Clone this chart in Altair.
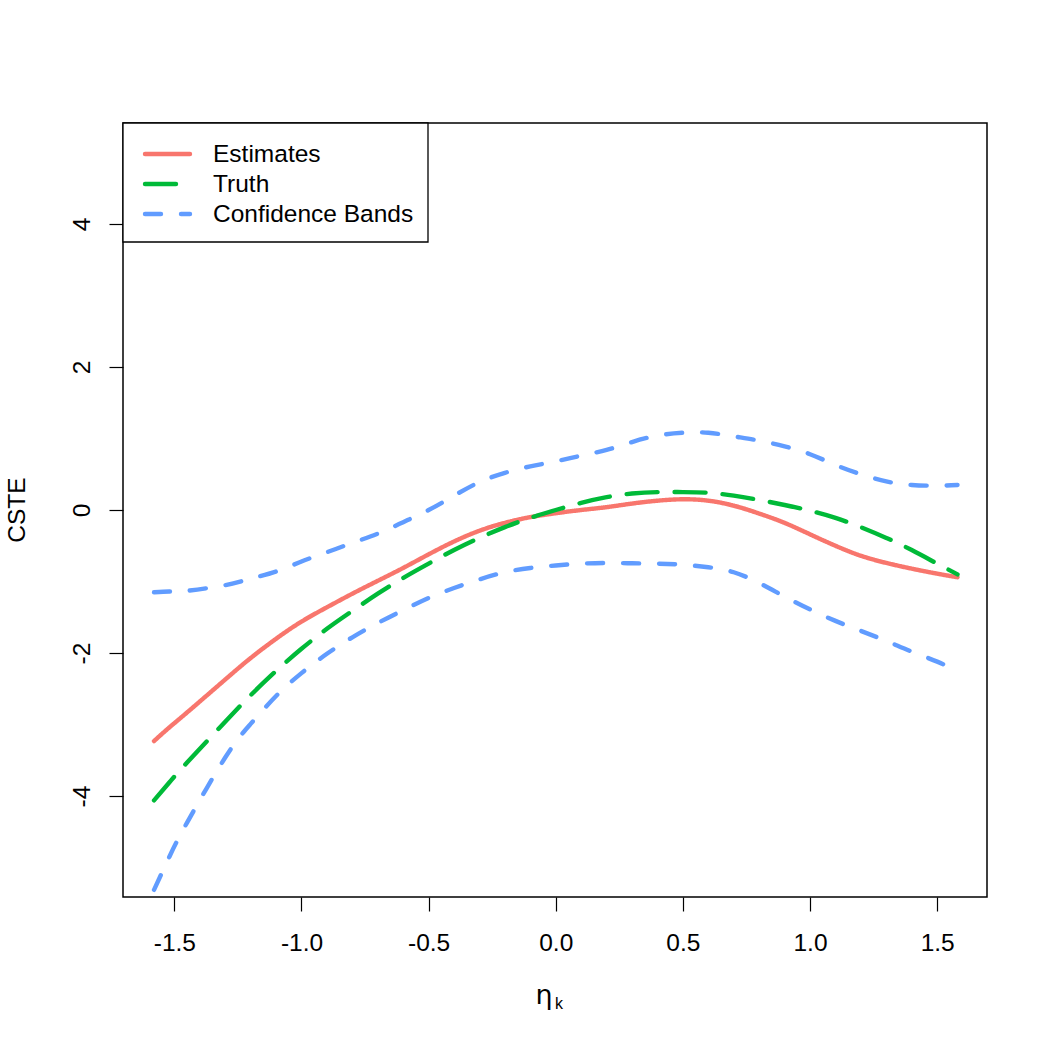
import altair as alt
import pandas as pd

# Grid of eta_k values and the curves evaluated on it
eta = [-1.58, -1.52, -1.45, -1.3, -1.2, -1.1, -1.0, -0.9, -0.8, -0.7, -0.6,
       -0.5, -0.4, -0.3, -0.2, -0.1, 0.0, 0.1, 0.2, 0.3, 0.4, 0.5, 0.6, 0.7,
       0.8, 0.9, 1.0, 1.1, 1.2, 1.3, 1.4, 1.5, 1.58]

estimates = [-3.23, -3.04, -2.83, -2.37, -2.07, -1.80, -1.56, -1.36, -1.17,
             -0.99, -0.81, -0.62, -0.44, -0.29, -0.18, -0.10, -0.045, 0.0,
             0.04, 0.09, 0.13, 0.15, 0.13, 0.06, -0.05, -0.18, -0.34, -0.50,
             -0.64, -0.74, -0.82, -0.89, -0.94]

truth = [-4.06, -3.81, -3.53, -2.96, -2.59, -2.25, -1.94, -1.66, -1.41,
         -1.17, -0.95, -0.75, -0.56, -0.39, -0.24, -0.11, 0.0, 0.10, 0.18,
         0.23, 0.25, 0.25, 0.24, 0.20, 0.14, 0.07, -0.01, -0.11, -0.24,
         -0.39, -0.56, -0.75, -0.90]

band_upper = [-1.15, -1.14, -1.13, -1.05, -0.96, -0.86, -0.72, -0.59, -0.46,
              -0.33, -0.17, 0.0, 0.20, 0.39, 0.52, 0.61, 0.68, 0.76, 0.84,
              0.95, 1.04, 1.08, 1.08, 1.03, 0.97, 0.89, 0.78, 0.63, 0.50,
              0.40, 0.35, 0.34, 0.35]

band_lower = [-5.31, -4.85, -4.37, -3.46, -2.99, -2.60, -2.28, -2.01, -1.78,
              -1.58, -1.40, -1.23, -1.09, -0.97, -0.87, -0.81, -0.775, -0.75,
              -0.74, -0.745, -0.75, -0.765, -0.80, -0.87, -1.02, -1.21, -1.39,
              -1.55, -1.69, -1.83, -1.98, -2.12, -2.25]

series_names = ["Estimates", "Truth", "Confidence Bands"]
series_colors = ["#F8766D", "#00BA38", "#619CFF"]
series_dashes = [[1, 0], [31, 17], [16, 20]]

x_ticks = [-1.5, -1.0, -0.5, 0.0, 0.5, 1.0, 1.5]
y_ticks = [-4, -2, 0, 2, 4]

FONT = "Liberation Sans"
FS = 24.5
LW = 4.4
W, H = 864, 774

rows = []
for name, curve, vals in [
    ("Estimates", "est", estimates),
    ("Truth", "truth", truth),
    ("Confidence Bands", "upper", band_upper),
    ("Confidence Bands", "lower", band_lower),
]:
    for xv, yv in zip(eta, vals):
        rows.append({"eta": xv, "cste": yv, "series": name, "curve": curve})
df = pd.DataFrame(rows)

dash_expr = "datum.value < 0 ? '-' + format(-datum.value, '{f}') : format(datum.value, '{f}')"

x_enc = alt.X(
    "eta:Q",
    scale=alt.Scale(domain=[-1.702, 1.696], nice=False, zero=False),
    axis=alt.Axis(
        values=x_ticks, title=None, grid=False, domain=False,
        tickSize=14, tickColor="black", tickWidth=1.2,
        labelFont=FONT, labelFontSize=FS, labelColor="black",
        labelBaseline="alphabetic", labelPadding=39,
        labelExpr=dash_expr.format(f=".1f"),
    ),
)
y_enc = alt.Y(
    "cste:Q",
    scale=alt.Scale(domain=[-5.41, 5.41], nice=False, zero=False),
    axis=alt.Axis(
        values=y_ticks, title=None, grid=False, domain=False,
        tickSize=14, tickColor="black", tickWidth=1.2,
        labelFont=FONT, labelFontSize=FS, labelColor="black",
        labelAngle=270, labelAlign="center", labelBaseline="alphabetic",
        labelPadding=20, labelExpr=dash_expr.format(f="d"),
    ),
)

lines = alt.Chart(df).mark_line(
    strokeWidth=LW, strokeCap="round", strokeJoin="round", interpolate="natural"
).encode(
    x=x_enc,
    y=y_enc,
    color=alt.Color("series:N", scale=alt.Scale(domain=series_names, range=series_colors), legend=None),
    strokeDash=alt.StrokeDash("series:N", scale=alt.Scale(domain=series_names, range=series_dashes), legend=None),
    detail="curve:N",
    order=alt.Order("eta:Q"),
)

one = pd.DataFrame({"k": [0]})

# Legend box in the top-left corner of the plot
legend_box = alt.Chart(one).mark_rect(fill="white", stroke="black", strokeWidth=1.3).encode(
    x=alt.value(0), x2=alt.value(305), y=alt.value(0), y2=alt.value(119)
)
legend_layers = [legend_box]
for i, (name, col, dash) in enumerate(zip(series_names, series_colors, series_dashes)):
    yy = 31 + 30 * i
    legend_layers.append(
        alt.Chart(one).mark_rule(color=col, strokeWidth=LW, strokeCap="round", strokeDash=dash).encode(
            x=alt.value(22), x2=alt.value(67), y=alt.value(yy)
        )
    )
    legend_layers.append(
        alt.Chart(one).mark_text(
            text=name, font=FONT, fontSize=FS, align="left", baseline="middle", color="black"
        ).encode(x=alt.value(90), y=alt.value(yy + 1))
    )

# Axis titles
y_title = alt.Chart(one).mark_text(
    text="CSTE", font=FONT, fontSize=FS, angle=270, align="center", baseline="alphabetic", color="black"
).encode(x=alt.value(-98), y=alt.value(H / 2))
x_title_eta = alt.Chart(one).mark_text(
    text="η", font="DejaVu Sans", fontSize=27, align="center", baseline="alphabetic", color="black"
).encode(x=alt.value(421), y=alt.value(881))
x_title_k = alt.Chart(one).mark_text(
    text="k", font=FONT, fontSize=16, align="left", baseline="alphabetic", color="black"
).encode(x=alt.value(432), y=alt.value(886))

chart = alt.layer(
    lines, *legend_layers, y_title, x_title_eta, x_title_k
).properties(
    width=W, height=H,
    autosize=alt.AutoSizeParams(type="none"),
    padding={"left": 123, "top": 123, "right": 63, "bottom": 153},
    background="white",
).configure_view(stroke="black", strokeWidth=1.5)

chart.save("out.html", embed_options={"renderer": "svg", "actions": False})
